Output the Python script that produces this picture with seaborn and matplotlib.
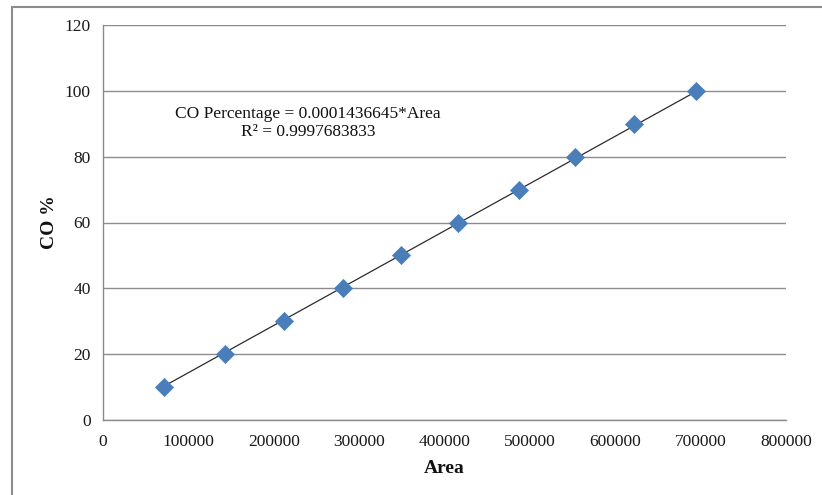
import matplotlib
matplotlib.use("Agg")
import matplotlib.pyplot as plt
import seaborn as sns
import numpy as np
import pandas as pd
from matplotlib.patches import Rectangle

# data
area = [71400, 142900, 212000, 281100, 349000, 415800, 487200, 552900, 621900, 694600]
co_pct = [10, 20, 30, 40, 50, 60, 70, 80, 90, 100]
slope = 0.0001436645
r2_text = "0.9997683833"
x_ticks = [0, 100000, 200000, 300000, 400000, 500000, 600000, 700000, 800000]
y_ticks = [0, 20, 40, 60, 80, 100, 120]

df = pd.DataFrame({"Area": area, "CO %": co_pct})

sns.set_theme(style="white")
plt.rcParams["font.family"] = ["Liberation Serif", "DejaVu Serif"]

fig = plt.figure(figsize=(8.22, 4.95), dpi=100)
ax = fig.add_axes([103/822, 1-420/495, (786-103)/822, (420-25)/495])

# outer chart frame
fig.patches.append(Rectangle((12/822, -0.1), 1.2, (495-7)/495 + 0.1,
                             transform=fig.transFigure, fill=False,
                             edgecolor="#8c8c8c", linewidth=1.5, clip_on=False))

# trendline
xs = np.array([min(area), max(area)])
ax.plot(xs, slope * xs, color="#2b2b2b", linewidth=0.9, zorder=2)

sns.scatterplot(data=df, x="Area", y="CO %", marker="D", s=85,
                color="#4a7ebb", edgecolor="#4a7ebb", linewidth=0.5, ax=ax, zorder=3)

ax.set_xlim(0, 800000)
ax.set_ylim(0, 120)
ax.set_xticks(x_ticks)
ax.set_yticks(y_ticks)
ax.set_xticklabels([str(v) for v in x_ticks])
ax.set_yticklabels([str(v) for v in y_ticks])

ax.grid(axis="y", color="#8c8c8c", linewidth=1.0)
ax.grid(axis="x", visible=False)
for s in ["top", "right"]:
    ax.spines[s].set_visible(False)
for s in ["left", "bottom"]:
    ax.spines[s].set_visible(True)
    ax.spines[s].set_color("#8c8c8c")
    ax.spines[s].set_linewidth(1.0)

ax.tick_params(axis="both", which="both", length=5, width=1, color="#8c8c8c",
               labelsize=12.5, labelcolor="#1a1a1a", direction="out")
ax.tick_params(axis="x", pad=5)
ax.tick_params(axis="y", pad=4)

ax.set_xlabel("Area", fontsize=14, fontweight="bold", labelpad=7, color="#111111")
ax.set_ylabel("CO %", fontsize=14, fontweight="bold", color="#111111")
ax.yaxis.set_label_coords(-0.066, 0.5)

ax.text(240000, 90.3, f"CO Percentage = {slope:.10f}*Area\nR² = {r2_text}",
        ha="center", va="center", fontsize=12.5, color="#111111", linespacing=1.2)

fig.savefig("out.png", dpi=100)
